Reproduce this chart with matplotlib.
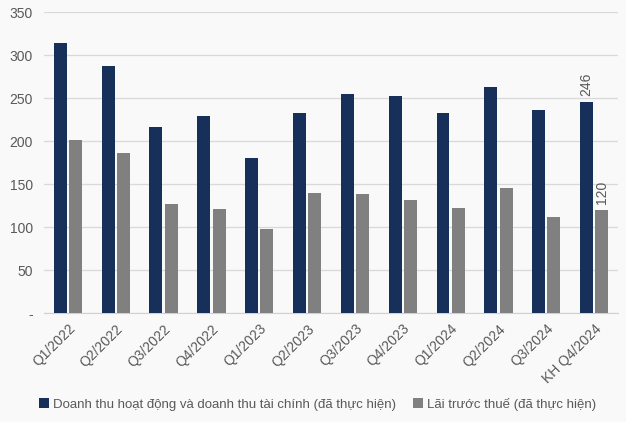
import matplotlib
matplotlib.use("Agg")
import matplotlib.pyplot as plt
import numpy as np

plt.rcParams['font.family'] = ['Liberation Sans', 'DejaVu Sans']

categories = ["Q1/2022", "Q2/2022", "Q3/2022", "Q4/2022", "Q1/2023", "Q2/2023",
              "Q3/2023", "Q4/2023", "Q1/2024", "Q2/2024", "Q3/2024", "KH Q4/2024"]
revenue = [314, 288, 217, 229, 181, 233, 255, 253, 233, 263, 236, 246]
profit = [201, 186, 127, 121, 98, 140, 139, 132, 122, 146, 112, 120]
series_names = ["Doanh thu hoạt động và doanh thu tài chính (đã thực hiện)",
                "Lãi trước thuế (đã thực hiện)"]
yticks = [0, 50, 100, 150, 200, 250, 300, 350]
ytick_labels = ["-", "50", "100", "150", "200", "250", "300", "350"]

bg = "#f9f9f9"
navy = "#17305a"
gray = "#808080"
txt = "#595959"

fig = plt.figure(figsize=(6.26, 4.22), dpi=100, facecolor=bg)
ax = fig.add_axes([0.0703, 0.2576, 0.917, 0.7134], facecolor=bg)

x = np.arange(len(categories))
w = 0.27
off = 0.16
b1 = ax.bar(x - off, revenue, w, color=navy, label=series_names[0], zorder=3)
b2 = ax.bar(x + off, profit, w, color=gray, label=series_names[1], zorder=3)

# data labels on the last (plan) bars
ax.text(x[-1] - off, revenue[-1] + 7, str(revenue[-1]), rotation=90, ha="center",
        va="bottom", fontsize=10, color=txt)
ax.text(x[-1] + off, profit[-1] + 7, str(profit[-1]), rotation=90, ha="center",
        va="bottom", fontsize=10, color=txt)

ax.set_xlim(-0.5, len(categories) - 0.5)
ax.set_ylim(0, 350)
ax.set_yticks(yticks)
ax.set_yticklabels(ytick_labels, fontsize=10, color=txt)
ax.yaxis.grid(True, color="#d9d9d9", linewidth=0.9, zorder=0)
ax.set_axisbelow(True)
ax.set_xticks(x)
ax.set_xticklabels(categories, rotation=45, ha="right", rotation_mode="anchor",
                   fontsize=10, color=txt)
ax.tick_params(axis="both", length=0)
ax.tick_params(axis="x", pad=6)
ax.tick_params(axis="y", pad=8)
for s in ["top", "right", "left"]:
    ax.spines[s].set_visible(False)
ax.spines["bottom"].set_color("#d0d0d0")

fig.legend(handles=[b1, b2], labels=series_names, loc="center",
           bbox_to_anchor=(0.507, 0.042), ncol=2, frameon=False, fontsize=9.5,
           handlelength=0.75, handleheight=0.75, handletextpad=0.3, columnspacing=1.3,
           labelcolor=txt)

fig.savefig("out.png", dpi=100, facecolor=bg)
